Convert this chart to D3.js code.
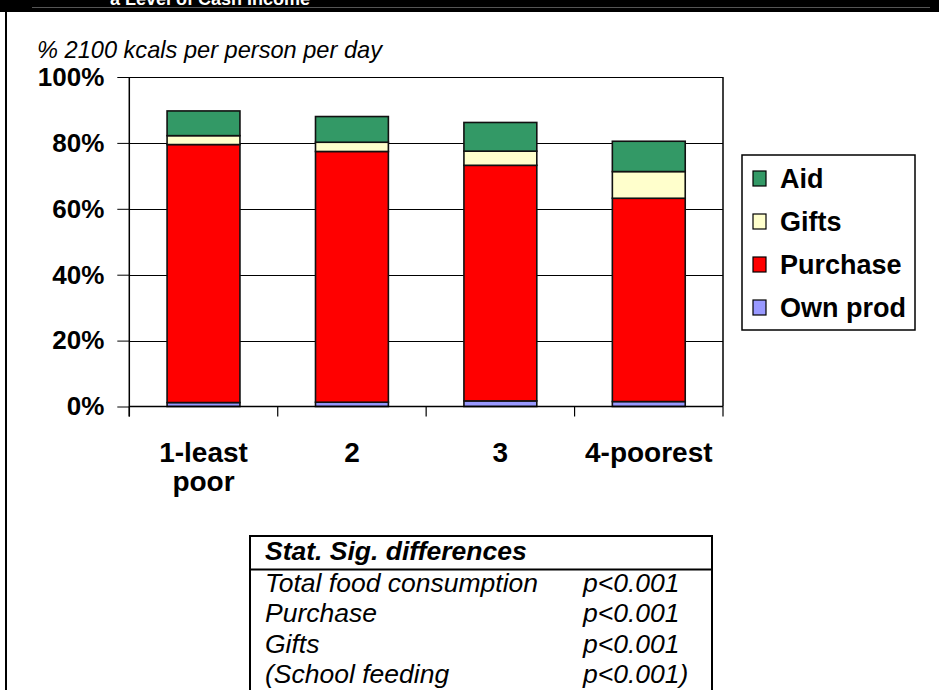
<!DOCTYPE html>
<html>
<head>
<meta charset="utf-8">
<script src="https://cdn.jsdelivr.net/npm/d3@7"></script>
<style>
  body { margin: 0; background: #fff; }
  text { font-family: "Liberation Sans", Arial, sans-serif; }
</style>
</head>
<body>
<div id="chart"></div>
<script>
// categories and stacked series (share of 2100 kcals, %)
var categories = ["1-least poor", "2", "3", "4-poorest"];
var xLabels = [["1-least", "poor"], ["2"], ["3"], ["4-poorest"]];
var ownProd  = [1.2, 1.3, 1.7, 1.5];
var purchase = [78.3, 76.1, 71.5, 61.7];
var gifts    = [2.7, 2.8, 4.3, 8.1];
var aid      = [7.5, 7.8, 8.7, 9.2];
var yTicks = [0, 20, 40, 60, 80, 100];

var seriesNames = ["Own prod", "Purchase", "Gifts", "Aid"];
var seriesColors = ["#9999ff", "#ff0000", "#ffffcc", "#339966"];

var sigRows = ["Total food consumption", "Purchase", "Gifts", "(School feeding"];
var sigVals = ["p<0.001", "p<0.001", "p<0.001", "p<0.001)"];

var W = 939, H = 690;
var margin = {top: 77, right: 216, bottom: 283.5, left: 129.3};
var width = W - margin.left - margin.right,
    height = H - margin.top - margin.bottom;

var svg = d3.select("#chart").append("svg")
  .attr("width", W).attr("height", H);

// slide frame: black band and left rule
svg.append("rect").attr("x", 0).attr("y", 0).attr("width", W).attr("height", 12).attr("fill", "#000");
svg.append("text").text("a Level of Cash Income")
  .attr("x", 110).attr("y", 5).attr("fill", "#fff")
  .attr("font-size", 18).attr("font-weight", "bold");
svg.append("line").attr("x1", 32).attr("x2", 930).attr("y1", 7.5).attr("y2", 7.5)
  .attr("stroke", "#555").attr("stroke-width", 1);
svg.append("line").attr("x1", 6).attr("x2", 6).attr("y1", 12).attr("y2", H)
  .attr("stroke", "#000").attr("stroke-width", 2);

svg.append("text").text("% 2100 kcals per person per day")
  .attr("x", 37).attr("y", 58)
  .attr("font-size", 23.6).attr("font-style", "italic");

var g = svg.append("g").attr("transform", "translate(" + margin.left + "," + margin.top + ")");

var x = d3.scaleBand().domain(categories).range([0, width]).paddingInner(0.509).paddingOuter(0.2545);
var y = d3.scaleLinear().domain([0, 100]).range([height, 0]);

// gridlines + frame
g.selectAll("line.grid").data(yTicks.filter(function(d){ return d > 0; }))
  .enter().append("line")
    .attr("x1", 0).attr("x2", width)
    .attr("y1", function(d){ return Math.round(y(d)) + 0.5; })
    .attr("y2", function(d){ return Math.round(y(d)) + 0.5; })
    .attr("stroke", "#000").attr("stroke-width", 1);
g.append("line").attr("x1", width).attr("x2", width).attr("y1", 0).attr("y2", height)
  .attr("stroke", "#000").attr("stroke-width", 1.5);

// stacked bars
var rows = categories.map(function(c, i){
  return {cat: c, "Own prod": ownProd[i], "Purchase": purchase[i], "Gifts": gifts[i], "Aid": aid[i]};
});
var stack = d3.stack().keys(seriesNames)(rows);

g.selectAll("g.series").data(stack).enter().append("g")
    .attr("fill", function(d, i){ return seriesColors[i]; })
  .selectAll("rect").data(function(d){ return d; }).enter().append("rect")
    .attr("x", function(d){ return x(d.data.cat); })
    .attr("width", x.bandwidth())
    .attr("y", function(d){ return y(d[1]); })
    .attr("height", function(d){ return y(d[0]) - y(d[1]); })
    .attr("stroke", "#111").attr("stroke-width", 1.6);

// y axis
var yAxis = g.append("g")
  .call(d3.axisLeft(y).tickValues(yTicks).tickFormat(function(d){ return d + "%"; })
    .tickSize(12).tickPadding(13));
yAxis.select(".domain").remove();
yAxis.append("line").attr("x1", 0).attr("x2", 0).attr("y1", 0).attr("y2", height + 10)
  .attr("stroke", "#000").attr("stroke-width", 1.5);
yAxis.selectAll(".tick line").attr("stroke", "#000");
yAxis.selectAll("text").attr("font-size", 26).attr("font-weight", "bold").attr("fill", "#000")
  .style("font-family", "'Liberation Sans', Arial, sans-serif");

// x axis: baseline, boundary ticks, labels
g.append("line").attr("x1", 0).attr("x2", width).attr("y1", height).attr("y2", height)
  .attr("stroke", "#000").attr("stroke-width", 1.5);
var bounds = categories.map(function(c){ return x(c) + x.bandwidth() / 2 - x.step() / 2; });
bounds.push(x(categories[categories.length - 1]) + x.bandwidth() / 2 + x.step() / 2);
g.selectAll("line.xtick").data(bounds).enter().append("line")
  .attr("x1", function(d){ return d; }).attr("x2", function(d){ return d; })
  .attr("y1", height).attr("y2", height + 10)
  .attr("stroke", "#000").attr("stroke-width", 1.2);

var xl = g.selectAll("text.xlab").data(categories).enter().append("text")
  .attr("text-anchor", "middle")
  .attr("font-size", 28).attr("font-weight", "bold")
  .attr("x", function(d){ return x(d) + x.bandwidth() / 2; })
  .attr("y", height + 55);
xl.selectAll("tspan").data(function(d, i){ return xLabels[i]; }).enter().append("tspan")
  .attr("x", function(){ var c = d3.select(this.parentNode).datum(); return x(c) + x.bandwidth() / 2; })
  .attr("dy", function(d, i){ return i === 0 ? 0 : 29; })
  .text(function(d){ return d; });

// legend (top item = Aid)
var legend = svg.append("g").attr("transform", "translate(742,155)");
legend.append("rect").attr("width", 173).attr("height", 175)
  .attr("fill", "#fff").attr("stroke", "#000").attr("stroke-width", 1.5);
var legItems = seriesNames.slice().reverse();
var li = legend.selectAll("g.item").data(legItems).enter().append("g")
  .attr("transform", function(d, i){ return "translate(0," + (33 + i * 43) + ")"; });
li.append("rect").attr("x", 11).attr("y", -17).attr("width", 13).attr("height", 15)
  .attr("fill", function(d){ return seriesColors[seriesNames.indexOf(d)]; })
  .attr("stroke", "#000").attr("stroke-width", 1.2);
li.append("text").attr("x", 38).attr("y", 0)
  .attr("font-size", 27).attr("font-weight", "bold")
  .text(function(d){ return d; });

// significance table
var tbl = svg.append("g").attr("transform", "translate(250,536)");
tbl.append("rect").attr("width", 462).attr("height", 200)
  .attr("fill", "#fff").attr("stroke", "#000").attr("stroke-width", 2);
tbl.append("line").attr("x1", 0).attr("x2", 462).attr("y1", 33.5).attr("y2", 33.5)
  .attr("stroke", "#000").attr("stroke-width", 2);
tbl.append("text").text("Stat. Sig. differences")
  .attr("x", 15).attr("y", 24)
  .attr("font-size", 26.5).attr("font-weight", "bold").attr("font-style", "italic");
tbl.selectAll("text.row").data(sigRows).enter().append("text")
  .attr("x", 15).attr("y", function(d, i){ return 56 + i * 30.4; })
  .attr("font-size", 26.5).attr("font-style", "italic")
  .text(function(d){ return d; });
tbl.selectAll("text.pv").data(sigVals).enter().append("text")
  .attr("x", 333).attr("y", function(d, i){ return 56 + i * 30.4; })
  .attr("font-size", 26.5).attr("font-style", "italic")
  .text(function(d){ return d; });
</script>
</body>
</html>
